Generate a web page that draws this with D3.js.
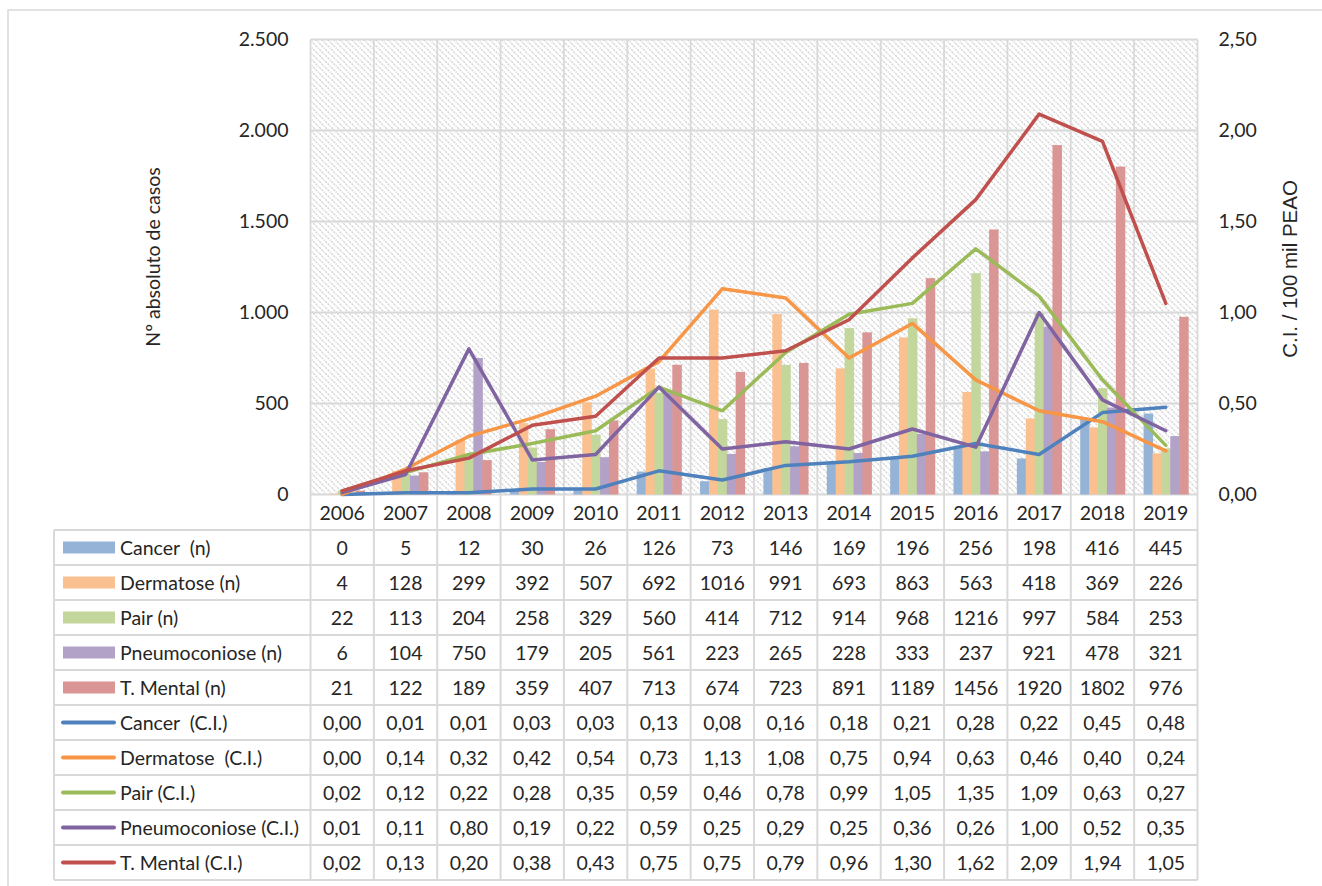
<!DOCTYPE html>
<html>
<head>
<meta charset="utf-8">
<script src="https://cdn.jsdelivr.net/npm/d3@7"></script>
<style>
  html, body { margin: 0; padding: 0; background: #fff; }
  svg { display: block; }
  text { font-family: Lato, "Open Sans", sans-serif; fill: #262626; }
</style>
</head>
<body>
<svg id="chart" width="1322" height="886"></svg>
<script>
const years = ["2006","2007","2008","2009","2010","2011","2012","2013","2014","2015","2016","2017","2018","2019"];

const cancerN  = [0, 5, 12, 30, 26, 126, 73, 146, 169, 196, 256, 198, 416, 445];
const dermN    = [4, 128, 299, 392, 507, 692, 1016, 991, 693, 863, 563, 418, 369, 226];
const pairN    = [22, 113, 204, 258, 329, 560, 414, 712, 914, 968, 1216, 997, 584, 253];
const pneumoN  = [6, 104, 750, 179, 205, 561, 223, 265, 228, 333, 237, 921, 478, 321];
const mentalN  = [21, 122, 189, 359, 407, 713, 674, 723, 891, 1189, 1456, 1920, 1802, 976];

const cancerCI = [0.00, 0.01, 0.01, 0.03, 0.03, 0.13, 0.08, 0.16, 0.18, 0.21, 0.28, 0.22, 0.45, 0.48];
const dermCI   = [0.00, 0.14, 0.32, 0.42, 0.54, 0.73, 1.13, 1.08, 0.75, 0.94, 0.63, 0.46, 0.40, 0.24];
const pairCI   = [0.02, 0.12, 0.22, 0.28, 0.35, 0.59, 0.46, 0.78, 0.99, 1.05, 1.35, 1.09, 0.63, 0.27];
const pneumoCI = [0.01, 0.11, 0.80, 0.19, 0.22, 0.59, 0.25, 0.29, 0.25, 0.36, 0.26, 1.00, 0.52, 0.35];
const mentalCI = [0.02, 0.13, 0.20, 0.38, 0.43, 0.75, 0.75, 0.79, 0.96, 1.30, 1.62, 2.09, 1.94, 1.05];

const leftTicks  = [0, 500, 1000, 1500, 2000, 2500];
const rightTicks = [0, 0.5, 1.0, 1.5, 2.0, 2.5];

const barSeries = [
  {name: "Cancer  (n)", values: cancerN, color: "#95b3d7"},
  {name: "Dermatose (n)", values: dermN, color: "#fac090"},
  {name: "Pair (n)", values: pairN, color: "#c3d69b"},
  {name: "Pneumoconiose (n)", values: pneumoN, color: "#b3a2c7"},
  {name: "T. Mental (n)", values: mentalN, color: "#d99694"}
];
const lineSeries = [
  {name: "Cancer  (C.I.)", values: cancerCI, color: "#4f81bd"},
  {name: "Dermatose  (C.I.)", values: dermCI, color: "#f79646"},
  {name: "Pair (C.I.)", values: pairCI, color: "#9bbb59"},
  {name: "Pneumoconiose (C.I.)", values: pneumoCI, color: "#8064a2"},
  {name: "T. Mental (C.I.)", values: mentalCI, color: "#c0504d"}
];

const FS = "19.5px";
const svg = d3.select("#chart");
const plot = {left: 310.5, right: 1197.5, top: 39.5, bottom: 494.5};
const grid = "#d9d9d9";

const x = d3.scaleBand().domain(years).range([plot.left, plot.right]).padding(0);
const xi = d3.scaleBand().domain(barSeries.map(d => d.name)).range([0, x.bandwidth()]).paddingInner(0).paddingOuter(1.06);
const yL = d3.scaleLinear().domain([0, 2500]).range([plot.bottom, plot.top]);
const yR = d3.scaleLinear().domain([0, 2.5]).range([plot.bottom, plot.top]);

// outer chart border
svg.append("rect").attr("x", 8).attr("y", 10).attr("width", 1330).attr("height", 900)
  .attr("fill", "none").attr("stroke", grid).attr("stroke-width", 1.5);

// hatch pattern
const defs = svg.append("defs");
const pat = defs.append("pattern").attr("id", "hatch").attr("patternUnits", "userSpaceOnUse")
  .attr("width", 6).attr("height", 6);
pat.append("path").attr("d", "M-1,-1 L7,7 M-1,5 L1,7 M5,-1 L7,1")
  .attr("stroke", "#d2d2d2").attr("stroke-width", 1.3).attr("stroke-dasharray", "2.2,1");

svg.append("rect").attr("x", plot.left).attr("y", plot.top)
  .attr("width", plot.right - plot.left).attr("height", plot.bottom - plot.top)
  .attr("fill", "url(#hatch)");

// gridlines
const gridG = svg.append("g");
gridG.selectAll("line.h").data(leftTicks).join("line")
  .attr("x1", plot.left).attr("x2", plot.right)
  .attr("y1", d => yL(d)).attr("y2", d => yL(d))
  .attr("stroke", grid).attr("stroke-width", 1.8);
gridG.selectAll("line.v").data(years.concat(["end"])).join("line")
  .attr("x1", (d, i) => plot.left + i * x.bandwidth()).attr("x2", (d, i) => plot.left + i * x.bandwidth())
  .attr("y1", plot.top).attr("y2", 530)
  .attr("stroke", grid).attr("stroke-width", 1.8);

// left axis labels
const ptLocale = d3.formatLocale({decimal: ",", thousands: ".", grouping: [3], currency: ["", ""]});
const axL = svg.append("g").attr("transform", `translate(${plot.left - 22},0)`)
  .call(d3.axisLeft(yL).tickValues(leftTicks).tickSize(0).tickPadding(0)
    .tickFormat(d => ptLocale.format(",")(d)));
axL.select(".domain").remove();
axL.selectAll("text").style("font-size", FS).style("font-family", "Lato, sans-serif").attr("fill", "#262626");

// right axis labels
const axR = svg.append("g").attr("transform", `translate(${plot.right + 21},0)`)
  .call(d3.axisRight(yR).tickValues(rightTicks).tickSize(0).tickPadding(0)
    .tickFormat(d => ptLocale.format(".2f")(d)));
axR.select(".domain").remove();
axR.selectAll("text").style("font-size", FS).style("font-family", "Lato, sans-serif").attr("fill", "#262626");

// axis titles
svg.append("text").attr("transform", "translate(160,257) rotate(-90)")
  .attr("text-anchor", "middle").style("font-size", FS).text("Nº absoluto de casos");
svg.append("text").attr("transform", "translate(1297,269) rotate(-90)")
  .attr("text-anchor", "middle").style("font-size", "20.5px")
  .style("font-family", "'Liberation Sans', Arial, sans-serif").text("C.I. / 100 mil PEAO");

// bars
barSeries.forEach(s => {
  svg.append("g").selectAll("rect").data(s.values).join("rect")
    .attr("x", (d, i) => x(years[i]) + xi(s.name))
    .attr("width", xi.bandwidth() + 0.6)
    .attr("y", d => yL(d))
    .attr("height", d => yL(0) - yL(d))
    .attr("fill", s.color);
});

// lines
const lineGen = d3.line().x((d, i) => x(years[i]) + x.bandwidth() / 2).y(d => yR(d));
lineSeries.forEach(s => {
  svg.append("path").datum(s.values).attr("d", lineGen)
    .attr("fill", "none").attr("stroke", s.color).attr("stroke-width", 3.5)
    .attr("stroke-linejoin", "round").attr("stroke-linecap", "round");
});

// data table
const tbl = {left: 54, headTop: 494.5, top: 530, rowH: 35};
const allRows = barSeries.map(s => ({...s, type: "bar"})).concat(lineSeries.map(s => ({...s, type: "line"})));
const tg = svg.append("g");

// header years
tg.selectAll("text.yr").data(years).join("text")
  .attr("x", d => x(d) + x.bandwidth() / 2).attr("y", (tbl.headTop + tbl.top) / 2)
  .attr("text-anchor", "middle").attr("dominant-baseline", "central")
  .style("font-size", FS).text(d => d);

// horizontal table lines
const hLines = d3.range(allRows.length + 1).map(i => tbl.top + i * tbl.rowH);
tg.selectAll("line.th").data(hLines).join("line")
  .attr("x1", tbl.left).attr("x2", plot.right)
  .attr("y1", d => d).attr("y2", d => d)
  .attr("stroke", grid).attr("stroke-width", 2);
// vertical lines
const vX = [tbl.left].concat(years.map((d, i) => plot.left + i * x.bandwidth()), [plot.right]);
tg.selectAll("line.tv").data(vX).join("line")
  .attr("x1", d => d).attr("x2", d => d)
  .attr("y1", tbl.top).attr("y2", tbl.top + allRows.length * tbl.rowH)
  .attr("stroke", grid).attr("stroke-width", 2);

allRows.forEach((r, ri) => {
  const cy = tbl.top + ri * tbl.rowH + tbl.rowH / 2;
  if (r.type === "bar") {
    tg.append("rect").attr("x", 63).attr("y", cy - 6).attr("width", 52).attr("height", 12).attr("fill", r.color);
  } else {
    tg.append("line").attr("x1", 63).attr("x2", 114).attr("y1", cy).attr("y2", cy)
      .attr("stroke", r.color).attr("stroke-width", 4).attr("stroke-linecap", "round");
  }
  tg.append("text").attr("x", 120).attr("y", cy).attr("dominant-baseline", "central")
    .style("font-size", FS).style("white-space", "pre").attr("xml:space", "preserve").text(r.name);
  tg.selectAll(null).data(r.values).join("text")
    .attr("x", (d, i) => x(years[i]) + x.bandwidth() / 2).attr("y", cy)
    .attr("text-anchor", "middle").attr("dominant-baseline", "central")
    .style("font-size", FS)
    .text(d => r.type === "bar" ? String(d) : ptLocale.format(".2f")(d));
});
</script>
</body>
</html>
